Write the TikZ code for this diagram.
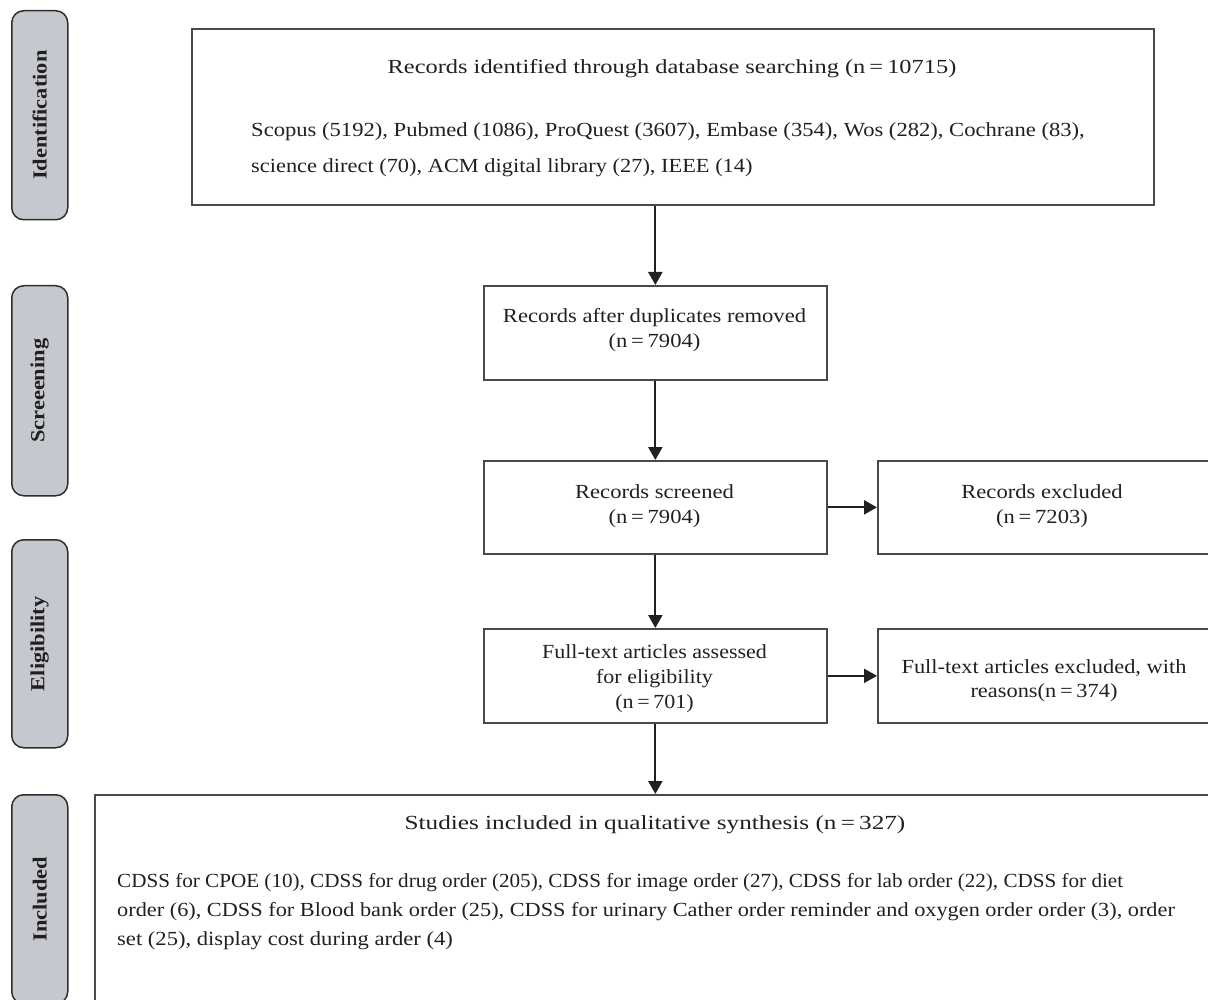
\documentclass[tikz,border=0pt]{standalone}
\usepackage{graphicx}
\usepackage{fontspec}
\setmainfont{Liberation Serif}
\usetikzlibrary{arrows.meta}
\definecolor{sidefill}{HTML}{C5C8CE}
\definecolor{sideline}{HTML}{2E2E2E}
\definecolor{boxline}{HTML}{4A4A4A}
\definecolor{ink}{HTML}{231F20}
\newcommand{\hstr}[2]{\scalebox{#1}[1]{#2}}
\begin{document}
\begin{tikzpicture}[x=1pt,y=-1pt,
  box/.style={draw=boxline, line width=1.7pt, inner sep=0pt, anchor=north west},
  side/.style={draw=sideline, fill=sidefill, line width=1.5pt, rounded corners=12pt, inner sep=0pt, anchor=north west, minimum width=56pt},
  sidetext/.style={rotate=90, text=ink, font=\fontsize{20}{24}\selectfont\bfseries},
  txt/.style={text=ink, inner sep=0pt, font=\fontsize{20}{24}\selectfont},
  arr/.style={draw=ink, line width=2.2pt, -{Triangle[length=13pt,width=14pt]}}
]
\useasboundingbox (0,0) rectangle (1208,1000);
\clip (0,0) rectangle (1208,1000);

% side labels
\node[side, minimum height=209pt] (sid) at (11,10) {};
\node[sidetext] (sidt) at (sid.center) {\hstr{1.12}{Identification}};
\node[side, minimum height=210pt] (sscr) at (11,285) {};
\node[sidetext] (sscrt) at (sscr.center) {\hstr{1.12}{Screeening}};
\node[side, minimum height=208pt] (selg) at (11,539) {};
\node[sidetext] (selgt) at (selg.center) {\hstr{1.12}{Eligibility}};
\node[side, minimum height=209pt] (sinc) at (11,794) {};
\node[sidetext] (sinct) at (sinc.center) {\hstr{1.12}{Included}};

% boxes
\node[box, minimum width=962pt, minimum height=176pt] (top) at (191,28) {};
\node[txt, anchor=base] (t1) at (672,74) {\hstr{1.22}{Records identified through database searching (n\,=\,10715)}};
\node[txt, anchor=base west] (t2) at (251,137) {\hstr{1.13}{Scopus (5192), Pubmed (1086), ProQuest (3607), Embase (354), Wos (282), Cochrane (83),}};
\node[txt, anchor=base west] (t3) at (251,173) {\hstr{1.12}{science direct (70), ACM digital library (27), IEEE (14)}};

\node[box, minimum width=343pt, minimum height=94pt] (b2) at (483,285) {};
\node[txt, anchor=base] (b2a) at (654.5,323) {\hstr{1.13}{Records after duplicates removed}};
\node[txt, anchor=base] (b2b) at (654.5,348) {\hstr{1.13}{(n\,=\,7904)}};

\node[box, minimum width=343pt, minimum height=93pt] (b3) at (483,460) {};
\node[txt, anchor=base] (b3a) at (654.5,498) {\hstr{1.13}{Records screened}};
\node[txt, anchor=base] (b3b) at (654.5,523) {\hstr{1.13}{(n\,=\,7904)}};

\node[box, minimum width=353pt, minimum height=93pt] (ex1) at (877,460) {};
\node[txt, anchor=base] (ex1a) at (1042,498) {\hstr{1.13}{Records excluded}};
\node[txt, anchor=base] (ex1b) at (1042,523) {\hstr{1.13}{(n\,=\,7203)}};

\node[box, minimum width=343pt, minimum height=94pt] (b4) at (483,628) {};
\node[txt, anchor=base] (b4a) at (654.5,658) {\hstr{1.1}{Full-text articles assessed}};
\node[txt, anchor=base] (b4b) at (654.5,683) {\hstr{1.1}{for eligibility}};
\node[txt, anchor=base] (b4c) at (654.5,708) {\hstr{1.1}{(n\,=\,701)}};

\node[box, minimum width=353pt, minimum height=94pt] (ex2) at (877,628) {};
\node[txt, anchor=base] (ex2a) at (1044,673) {\hstr{1.12}{Full-text articles excluded, with}};
\node[txt, anchor=base] (ex2b) at (1044,697) {\hstr{1.12}{reasons(n\,=\,374)}};

\node[box, minimum width=1136pt, minimum height=240pt] (bot) at (94,794) {};
\node[txt, anchor=base] (bota) at (655,829) {\hstr{1.26}{Studies included in qualitative synthesis (n\,=\,327)}};
\node[txt, anchor=base west] (botb) at (117,887) {\hstr{1.056}{CDSS for CPOE (10), CDSS for drug order (205), CDSS for image order (27), CDSS for lab order (22), CDSS for diet}};
\node[txt, anchor=base west] (botc) at (117,916) {\hstr{1.115}{order (6), CDSS for Blood bank order (25), CDSS for urinary Cather order reminder and oxygen order order (3), order}};
\node[txt, anchor=base west] (botd) at (117,945) {\hstr{1.13}{set (25), display cost during arder (4)}};

% arrows
\draw[arr] (b2.north |- top.south) -- (b2.north);
\draw[arr] (b2.south) -- (b3.north);
\draw[arr] (b3.east) -- (ex1.west);
\draw[arr] (b3.south) -- (b4.north);
\draw[arr] (b4.east) -- (ex2.west);
\draw[arr] (b4.south) -- (b4.south |- bot.north);
\end{tikzpicture}
\end{document}
